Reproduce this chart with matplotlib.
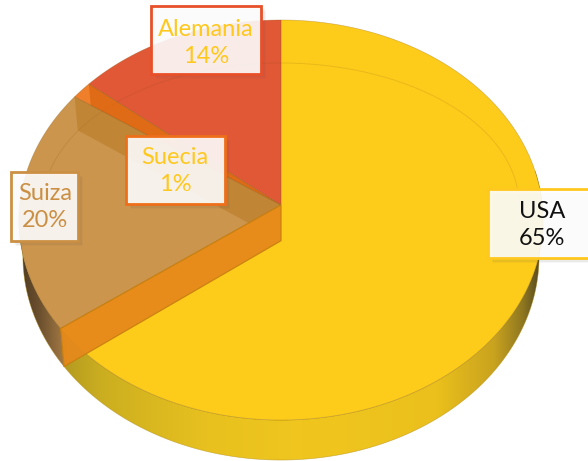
import numpy as np
import matplotlib
matplotlib.use("Agg")
import matplotlib.pyplot as plt
from matplotlib.patches import Polygon, Rectangle
from matplotlib.colors import LinearSegmentedColormap

# ---- data ----
countries = ["USA", "Suiza", "Suecia", "Alemania"]
shares = [64.9, 19.7, 1.4, 14.0]
face_colors = ["#FDCC1B", "#CC954D", "#EF7F2A", "#E15837"]
edge_colors = ["#FFC81E", "#CB9044", "#EE6F1A", "#E8502A"]
text_colors = ["#111111", "#CB8F44", "#FFC81E", "#FFC81E"]

plt.rcParams["font.family"] = ["Lato", "DejaVu Sans"]
W, H = 588, 461
fig = plt.figure(figsize=(W / 100, H / 100), dpi=100)
ax = fig.add_axes([0, 0, 1, 1])
ax.set_xlim(0, W)
ax.set_ylim(H, 0)
ax.axis("off")

# perspective projection of a unit disc
CX, CY, A, B, K = 281.0, 205.0, 261.3, 198.9, 0.075
TOP_MID, BOT_MID, SX, SY = 220.0, 256.0, 0.985, 1.02


def proj(theta_deg, r=1.0):
    t = np.radians(theta_deg)
    u, v = r * np.sin(t), r * np.cos(t)
    d = 1 + K * v
    return np.column_stack([CX + A * u / d, CY - B * v / d])


def lower(pts):
    pts = np.atleast_2d(pts)
    return np.column_stack([CX + (pts[:, 0] - CX) * SX,
                            BOT_MID + (pts[:, 1] - TOP_MID) * SY])


edges = np.concatenate([[0], np.cumsum(shares)]) * 3.6


def sector(a0, a1):
    return np.vstack([[CX, CY], proj(np.linspace(a0, a1, 200))])


def wall(angle):
    rim = proj(np.array([angle]))
    apex = np.array([[CX, CY]])
    return np.vstack([apex, rim, lower(rim), lower(apex)])


def side(a0, a1):
    rim = proj(np.linspace(a0, a1, 200))
    return np.vstack([rim, lower(rim)[::-1]])


def gradient(poly_pts, stops, x0, x1, z):
    cmap = LinearSegmentedColormap.from_list("g", stops)
    im = ax.imshow(np.linspace(0, 1, 256)[None, :], extent=(x0, x1, H, 0),
                   aspect="auto", cmap=cmap, zorder=z, interpolation="bilinear")
    clip = Polygon(poly_pts, closed=True, transform=ax.transData)
    im.set_clip_path(clip)
    ax.add_patch(Polygon(poly_pts, closed=True, fc="none", ec="#B08A10",
                         lw=0.5, alpha=0.55, zorder=z + 0.1))


# outer side walls
gradient(side(80, edges[1]),
         [(0, "#B39A20"), (0.08, "#CBAE20"), (0.3, "#E8C11F"), (0.5, "#F0C61E"),
          (0.78, "#EBC01C"), (0.9, "#C9A31E"), (0.96, "#8F7720"), (1, "#4F4520")],
         62, 543, 1)
gradient(side(edges[1], 272),
         [(0, "#4E3A22"), (0.45, "#6E5230"), (1, "#A87C46")],
         20, 66, 1)
ax.set_xlim(0, W)
ax.set_ylim(H, 0)

# top faces
tops = []
for i in range(len(shares)):
    p = Polygon(sector(edges[i], edges[i + 1]), closed=True, fc=face_colors[i],
                ec="none", zorder=3)
    ax.add_patch(p)
    tops.append(p)

# inner bevel ring
t = np.radians(np.linspace(-95, 92, 300))
ax.plot(CX + 238 * np.sin(t), CY - 142 * np.cos(t), color="#7A4A10", lw=0.7,
        alpha=0.15, zorder=4)

# walls seen through the translucent faces
q1 = Polygon(wall(edges[2]), closed=True, fc="#B5721C", ec="none", alpha=0.45, zorder=5)
ax.add_patch(q1)
q1.set_clip_path(tops[1])
q2 = Polygon(wall(edges[3]), closed=True, fc="#DB6510", ec="none", alpha=0.75, zorder=5)
ax.add_patch(q2)
q2.set_clip_path(tops[2])

# rim and edge lines
for p in tops:
    ax.add_patch(Polygon(p.get_xy(), closed=True, fc="none", ec="#8A5A10", lw=0.5,
                         alpha=0.35, zorder=6))

# front cut wall of the Suiza slice
ax.add_patch(Polygon(wall(edges[1]), closed=True, fc="#E6891C", ec="#C9800F", lw=0.9,
                     alpha=0.95, zorder=7))

# labels: box positions are layout
boxes = [(488, 189, 110, 69, 542, 225), (11, 172, 67, 69, 45, 207),
         (126, 136, 99, 68, 175, 171), (151, 6, 110, 68, 206, 43)]
for i, (x, y, w, h, tx, ty) in enumerate(boxes):
    for off, al in ((5, 0.05), (3.5, 0.07), (2, 0.09)):
        ax.add_patch(Rectangle((x + off, y + off), w, h, fc="#555555", ec="none",
                               alpha=al, zorder=8))
    ax.add_patch(Rectangle((x, y), w, h, fc=(1, 1, 1, 0.89), ec=edge_colors[i], lw=2.0,
                           zorder=9))
    ax.text(tx, ty, f"{countries[i]}\n{shares[i]:.0f}%", color=text_colors[i],
            ha="center", va="center", fontsize=17, linespacing=1.38, zorder=10)

ax.set_xlim(0, W)
ax.set_ylim(H, 0)
fig.savefig("out.png", dpi=100, facecolor="white")
